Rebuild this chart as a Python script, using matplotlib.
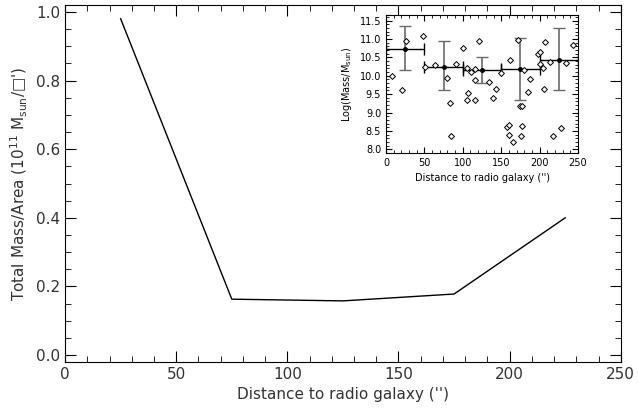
import matplotlib
matplotlib.use("Agg")
import matplotlib.pyplot as plt

# main panel: total mass per area in distance bins
dist = [25, 75, 125, 175, 225]
mass_area = [0.98, 0.163, 0.158, 0.178, 0.40]

# inset: individual galaxies
gx = [8, 21, 26, 48, 51, 64, 80, 83, 84, 91, 100, 105, 107, 105, 111, 116, 116, 116,
      121, 134, 139, 143, 150, 157, 160, 161, 160, 165, 172, 174, 177, 176, 177, 180,
      185, 188, 198, 201, 200, 205, 206, 207, 213, 217, 228, 234, 243]
gy = [10.0, 9.62, 10.94, 11.08, 10.24, 10.28, 9.94, 9.27, 8.35, 10.32, 10.76, 10.22, 9.52,
      9.33, 10.1, 9.88, 10.19, 9.33, 10.95, 9.84, 9.4, 9.65, 10.08, 8.62, 8.66, 10.43,
      8.38, 8.2, 10.98, 9.18, 9.18, 8.37, 8.64, 10.16, 9.56, 9.92, 10.6, 10.64, 10.32,
      10.2, 9.64, 10.92, 10.37, 8.35, 8.58, 10.35, 10.83]

# inset: binned means
bx = [25, 75, 125, 175, 225]
by = [10.72, 10.25, 10.15, 10.17, 10.43]
by_lo = [10.15, 9.6, 9.8, 9.33, 9.6]
by_hi = [11.35, 10.95, 10.52, 11.02, 11.3]

fig = plt.figure(figsize=(6.38, 4.18), dpi=100)
ax = fig.add_axes([0.102, 0.134, 0.871, 0.854])
ax.plot(dist, mass_area, color="black", lw=1)
ax.set_xlim(0, 250)
ax.set_ylim(-0.02, 1.02)
ax.set_xticks([0, 50, 100, 150, 200, 250])
ax.set_yticks([0.0, 0.2, 0.4, 0.6, 0.8, 1.0])
ax.set_yticklabels(["0.0", "0.2", "0.4", "0.6", "0.8", "1.0"])
ax.minorticks_on()
ax.tick_params(which="both", direction="in", top=True, right=True, labelsize=11,
               labelcolor="#333333")
ax.tick_params(which="major", length=8)
ax.tick_params(which="minor", length=4)
ax.set_xlabel("Distance to radio galaxy ('')", fontsize=11, color="#333333")
ax.set_ylabel("Total Mass/Area (10$^{11}$ M$_{\\rm sun}$/\u25a1')", fontsize=11,
              color="#333333")

ins = fig.add_axes([0.605, 0.634, 0.301, 0.33])
ins.scatter(gx, gy, marker="D", s=9, facecolor="white", edgecolor="black", lw=0.7, zorder=3)
yerr = [[m - l for m, l in zip(by, by_lo)], [h - m for m, h in zip(by, by_hi)]]
ins.errorbar(bx, by, yerr=yerr, fmt="none", ecolor="dimgray", capsize=4, lw=1.2)
ins.errorbar(bx, by, xerr=25, fmt="o", ms=2.5, color="black", ecolor="black", capsize=4, lw=1)
ins.set_xlim(0, 250)
ins.set_ylim(7.9, 11.65)
ins.set_xticks([0, 50, 100, 150, 200, 250])
ins.set_yticks([8.0, 8.5, 9.0, 9.5, 10.0, 10.5, 11.0, 11.5])
ins.minorticks_on()
ins.tick_params(which="both", direction="in", top=True, right=True, labelsize=7)
ins.tick_params(which="major", length=4)
ins.tick_params(which="minor", length=2)
ins.set_xlabel("Distance to radio galaxy ('')", fontsize=7)
ins.set_ylabel("Log(Mass/M$_{\\rm sun}$)", fontsize=7)

fig.savefig("out.png", dpi=100)
